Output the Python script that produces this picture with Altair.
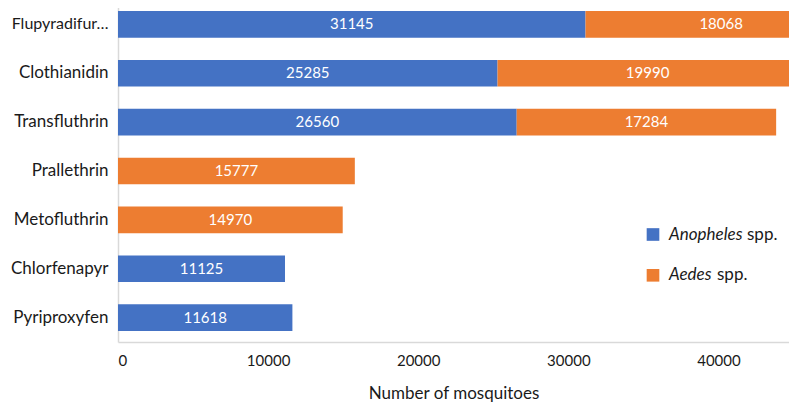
import altair as alt
import pandas as pd

compounds = ["Flupyradifur…", "Clothianidin", "Transfluthrin", "Prallethrin",
             "Metofluthrin", "Chlorfenapyr", "Pyriproxyfen"]
anopheles = [31145, 25285, 26560, 0, 0, 11125, 11618]
aedes = [18068, 19990, 17284, 15777, 14970, 0, 0]
series = ["Anopheles spp.", "Aedes spp."]
genus = ["Anopheles", "Aedes"]
colors = ["#4472C4", "#ED7D31"]
x_ticks = [0, 10000, 20000, 30000, 40000]

FONT = "Lato"
TXT = "#1a1a1a"

rows = []
for c, a, b in zip(compounds, anopheles, aedes):
    rows.append({"compound": c, "series": series[0], "order": 0, "value": a})
    rows.append({"compound": c, "series": series[1], "order": 1, "value": b})
df = pd.DataFrame(rows)

base = (
    alt.Chart(df)
    .transform_stack(stack="value", groupby=["compound"],
                     sort=[alt.SortField("order")], as_=["x0", "x1"])
    .transform_filter("datum.value > 0")
    .transform_calculate(mid="(datum.x0 + datum.x1) / 2")
)

long_label = compounds[0]
y_enc = alt.Y(
    "compound:N", sort=compounds, title=None,
    scale=alt.Scale(range=[-8, 334], paddingInner=0.455, paddingOuter=0.2275),
    axis=alt.Axis(ticks=False, domainColor="#D9D9D9", domainWidth=1.5,
                  labelFont=FONT,
                  labelFontSize={"condition": {"test": f"datum.value === '{long_label}'",
                                               "value": 16},
                                 "value": 17},
                  labelColor=TXT, labelPadding=10),
)

x_scale = alt.Scale(domain=[0, 44700], nice=False, zero=True)

bars = base.mark_bar(clip=True).encode(
    x=alt.X("x0:Q", scale=x_scale,
            axis=alt.Axis(values=x_ticks, format="d", grid=False, ticks=False,
                          domainColor="#D9D9D9", domainWidth=1.5,
                          labelFont=FONT, labelFontSize=15, labelColor=TXT,
                          labelPadding=11, title="Number of mosquitoes",
                          titleFont=FONT, titleFontSize=17,
                          titleFontWeight="normal", titleColor=TXT,
                          titlePadding=17)),
    x2="x1:Q",
    y=y_enc,
    color=alt.Color("series:N", scale=alt.Scale(domain=series, range=colors),
                    legend=None),
)

labels = base.mark_text(color="white", font=FONT, fontSize=15).encode(
    x=alt.X("mid:Q", scale=x_scale),
    y=alt.Y("compound:N", sort=compounds),
    text=alt.Text("value:Q", format="d"),
)

legend_layers = []
leg_y = [226.5, 267.3]
for i in range(2):
    ldf = pd.DataFrame({"genus": [genus[i]], "rest": ["spp."]})
    sq = alt.Chart(ldf).mark_square(size=160, color=colors[i], opacity=1).encode(
        x=alt.value(535), y=alt.value(leg_y[i]))
    g = alt.Chart(ldf).mark_text(font=FONT, fontSize=17, fontStyle="italic",
                                 align="left", baseline="middle", color=TXT).encode(
        x=alt.value(551), y=alt.value(leg_y[i]), text="genus:N")
    legend_layers += [sq, g]

rest_layers = []
rest_x = [629, 599]
for i in range(2):
    ldf = pd.DataFrame({"rest": ["spp."]})
    r = alt.Chart(ldf).mark_text(font=FONT, fontSize=17, align="left",
                                 baseline="middle", color=TXT).encode(
        x=alt.value(rest_x[i]), y=alt.value(leg_y[i]), text="rest:N")
    rest_layers.append(r)

chart = alt.layer(bars, labels, *legend_layers, *rest_layers).properties(
    width=671, height=334,
    autosize=alt.AutoSizeParams(type="none"),
    padding={"left": 110, "top": 0, "right": 0, "bottom": 60},
).configure_view(stroke=None)

chart.save("out.html", embed_options={"renderer": "svg", "actions": False})
